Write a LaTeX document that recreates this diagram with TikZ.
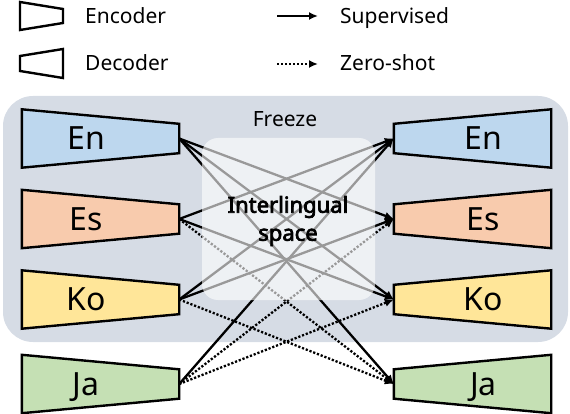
\documentclass[tikz,border=0pt]{standalone}
\usepackage{fontspec}
\setmainfont{Noto Sans}[AutoFakeBold=3.2]
\usetikzlibrary{arrows.meta}
\definecolor{freezeBg}{HTML}{D6DCE5}
\definecolor{colEn}{HTML}{BDD7EE}
\definecolor{colEs}{HTML}{F8CBAD}
\definecolor{colKo}{HTML}{FFE699}
\definecolor{colJa}{HTML}{C5E0B4}

\begin{document}
\begin{tikzpicture}[x=1pt, y=-1pt,
  blk/.style={minimum width=157pt, minimum height=58pt, inner sep=0pt},
  trap/.style={draw=black, line width=2.4pt},
  lang/.style={inner sep=0pt, anchor=base, font=\fontsize{32}{32}\selectfont},
  txt/.style={inner sep=0pt, anchor=base west, font=\fontsize{21}{25}\selectfont},
  sup/.style={line width=2.3pt, -{Latex[length=9pt,width=8pt]}},
  zero/.style={sup, dash pattern=on 2.2pt off 1.8pt}]
 \useasboundingbox (0,0) rectangle (570,414);
 \fill[freezeBg, rounded corners=30pt] (3,96) rectangle (568,342);
 \node[txt, anchor=center] (freeze) at (285,119) {Freeze};

 \draw[trap] (20,2) -- (63,9) -- (63,23) -- (20,30) -- cycle;
 \draw[trap] (20,56) -- (63,49) -- (63,78) -- (20,71) -- cycle;
 \node[txt] (encL) at (85,24) {Encoder};
 \node[txt] (decL) at (85,71) {Decoder};
 \coordinate (supA) at (277,16);
 \coordinate (supB) at (318,16);
 \coordinate (zeroA) at (277,64);
 \coordinate (zeroB) at (318,64);
 \draw[sup, line width=1.8pt] (supA) -- (supB);
 \draw[zero, line width=1.8pt] (zeroA) -- (zeroB);
 \node[txt] (supL) at (340,24) {Supervised};
 \node[txt] (zeroL) at (340,71) {Zero-shot};

 \foreach \l/\y/\c in {En/138.5/colEn, Es/219/colEs, Ko/299.5/colKo, Ja/384/colJa}{
  \node[blk] (enc\l) at (100.5,\y) {};
  \node[blk] (dec\l) at (472.5,\y) {};
  \draw[trap, fill=\c] (enc\l.north west) -- ([yshift=-14.5pt]enc\l.north east) -- ([yshift=14.5pt]enc\l.south east) -- (enc\l.south west) -- cycle;
  \draw[trap, fill=\c] ([yshift=-14.5pt]dec\l.north west) -- (dec\l.north east) -- (dec\l.south east) -- ([yshift=14.5pt]dec\l.south west) -- cycle;
  \node[lang] (encT\l) at ([xshift=-14.5pt, yshift=-11pt]enc\l) {\l};
  \node[lang] (decT\l) at ([xshift=11pt, yshift=-11pt]dec\l) {\l};
 }

 \draw[sup] (encEn.east) -- (decEs.west);
 \draw[sup] (encEn.east) -- (decKo.west);
 \draw[sup] (encEn.east) -- (decJa.west);
 \draw[sup] (encEs.east) -- (decEn.west);
 \draw[sup] (encEs.east) -- (decKo.west);
 \draw[sup] (encKo.east) -- (decEn.west);
 \draw[sup] (encKo.east) -- (decEs.west);
 \draw[sup] (encJa.east) -- (decEn.west);
 \draw[zero] (encEs.east) -- (decJa.west);
 \draw[zero] (encKo.east) -- (decJa.west);
 \draw[zero] (encJa.east) -- (decEs.west);
 \draw[zero] (encJa.east) -- (decKo.west);

 \fill[white, fill opacity=0.6, rounded corners=16pt] (202,138) rectangle (375,300);
 \node[inner sep=0pt, align=center, font=\bfseries\fontsize{22}{28}\selectfont] (space) at (288,221) {Interlingual\\space};
\end{tikzpicture}
\end{document}
